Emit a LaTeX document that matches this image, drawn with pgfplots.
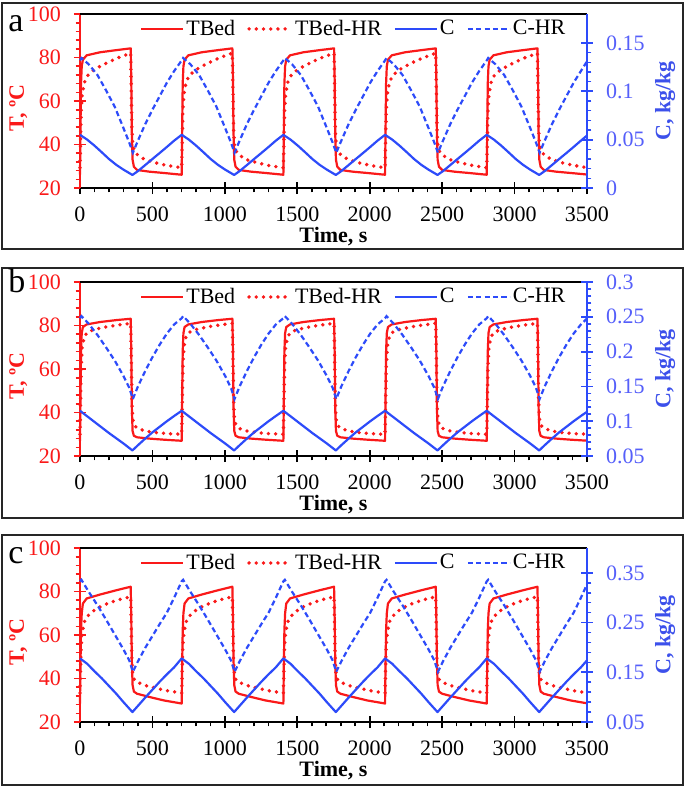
\documentclass[border=0pt]{standalone}
\usepackage{fontspec}
\setmainfont{Liberation Serif}
\usepackage{pgfplots}
\usepackage{pgfplotstable}
\pgfplotsset{compat=1.18}
\definecolor{tred}{RGB}{250,25,25}
\definecolor{cblue}{RGB}{45,75,250}
\definecolor{lblue}{RGB}{85,95,250}
\definecolor{clab}{RGB}{60,80,235}

\pgfplotstableread{
t a b c
0 26.1 27.0 28.5
3 45 45 45
7 68 68 62
12 76 76.5 70
20 79 79.3 74.5
46 81 80.5 76.8
138 82.4 81.6 78.6
252 83.4 82.5 80.6
350 84.2 83.1 82.2
354 70 68 68
358 45 42 48
363 33 31.5 37
372 29.8 29.3 34
394 28.3 28.6 33.0
480 27.5 28.0 31.5
580 26.9 27.5 29.9
702 26.1 27.0 28.5
705 45 45 45
709 68 68 62
714 76 76.5 70
722 79 79.3 74.5
748 81 80.5 76.8
840 82.4 81.6 78.6
954 83.4 82.5 80.6
1052 84.2 83.1 82.2
1056 70 68 68
1060 45 42 48
1065 33 31.5 37
1074 29.8 29.3 34
1096 28.3 28.6 33.0
1182 27.5 28.0 31.5
1282 26.9 27.5 29.9
1404 26.1 27.0 28.5
1407 45 45 45
1411 68 68 62
1416 76 76.5 70
1424 79 79.3 74.5
1450 81 80.5 76.8
1542 82.4 81.6 78.6
1656 83.4 82.5 80.6
1754 84.2 83.1 82.2
1758 70 68 68
1762 45 42 48
1767 33 31.5 37
1776 29.8 29.3 34
1798 28.3 28.6 33.0
1884 27.5 28.0 31.5
1984 26.9 27.5 29.9
2106 26.1 27.0 28.5
2109 45 45 45
2113 68 68 62
2118 76 76.5 70
2126 79 79.3 74.5
2152 81 80.5 76.8
2244 82.4 81.6 78.6
2358 83.4 82.5 80.6
2456 84.2 83.1 82.2
2460 70 68 68
2464 45 42 48
2469 33 31.5 37
2478 29.8 29.3 34
2500 28.3 28.6 33.0
2586 27.5 28.0 31.5
2686 26.9 27.5 29.9
2808 26.1 27.0 28.5
2811 45 45 45
2815 68 68 62
2820 76 76.5 70
2828 79 79.3 74.5
2854 81 80.5 76.8
2946 82.4 81.6 78.6
3060 83.4 82.5 80.6
3158 84.2 83.1 82.2
3162 70 68 68
3166 45 42 48
3171 33 31.5 37
3180 29.8 29.3 34
3202 28.3 28.6 33.0
3288 27.5 28.0 31.5
3388 26.9 27.5 29.9
3500 26.2 27.05 28.6
}\tbed

\pgfplotstableread{
t a b c
0 29.3 30.0 33.3
4 42 45 45
8 55 60 55
15 63 70 61
30 68.5 75 66
50 71.5 76.8 68.5
90 74 78 71
140 76 78.8 73
200 78 79.6 74.8
260 79.8 80.2 76.1
350 82 81.0 77.6
354 65 66 62
358 48 46 48
364 40 37 42
375 37 34 39.3
400 35 32.6 38.2
450 33 31.5 36.8
520 31.6 30.8 35.6
600 30.4 30.3 34.4
702 29.3 30.0 33.3
706 42 45 45
710 55 60 55
717 63 70 61
732 68.5 75 66
752 71.5 76.8 68.5
792 74 78 71
842 76 78.8 73
902 78 79.6 74.8
962 79.8 80.2 76.1
1052 82 81.0 77.6
1056 65 66 62
1060 48 46 48
1066 40 37 42
1077 37 34 39.3
1102 35 32.6 38.2
1152 33 31.5 36.8
1222 31.6 30.8 35.6
1302 30.4 30.3 34.4
1404 29.3 30.0 33.3
1408 42 45 45
1412 55 60 55
1419 63 70 61
1434 68.5 75 66
1454 71.5 76.8 68.5
1494 74 78 71
1544 76 78.8 73
1604 78 79.6 74.8
1664 79.8 80.2 76.1
1754 82 81.0 77.6
1758 65 66 62
1762 48 46 48
1768 40 37 42
1779 37 34 39.3
1804 35 32.6 38.2
1854 33 31.5 36.8
1924 31.6 30.8 35.6
2004 30.4 30.3 34.4
2106 29.3 30.0 33.3
2110 42 45 45
2114 55 60 55
2121 63 70 61
2136 68.5 75 66
2156 71.5 76.8 68.5
2196 74 78 71
2246 76 78.8 73
2306 78 79.6 74.8
2366 79.8 80.2 76.1
2456 82 81.0 77.6
2460 65 66 62
2464 48 46 48
2470 40 37 42
2481 37 34 39.3
2506 35 32.6 38.2
2556 33 31.5 36.8
2626 31.6 30.8 35.6
2706 30.4 30.3 34.4
2808 29.3 30.0 33.3
2812 42 45 45
2816 55 60 55
2823 63 70 61
2838 68.5 75 66
2858 71.5 76.8 68.5
2898 74 78 71
2948 76 78.8 73
3008 78 79.6 74.8
3068 79.8 80.2 76.1
3158 82 81.0 77.6
3162 65 66 62
3166 48 46 48
3172 40 37 42
3183 37 34 39.3
3208 35 32.6 38.2
3258 33 31.5 36.8
3328 31.6 30.8 35.6
3408 30.4 30.3 34.4
3500 29.4 30.05 33.4
}\tbedhr

\pgfplotstableread{
t a b c
0 0.055 0.115 0.178
50 0.050 0.107 0.167
100 0.0438 0.099 0.152
150 0.0370 0.091 0.138
200 0.0300 0.083 0.1225
250 0.0240 0.0755 0.107
300 0.0190 0.068 0.090
362 0.0135 0.058 0.070
400 0.0175 0.0655 0.0825
450 0.0237 0.075 0.099
500 0.0300 0.084 0.115
550 0.0362 0.092 0.131
600 0.0425 0.100 0.146
650 0.0490 0.1075 0.160
702 0.055 0.115 0.178
752 0.050 0.107 0.167
802 0.0438 0.099 0.152
852 0.0370 0.091 0.138
902 0.0300 0.083 0.1225
952 0.0240 0.0755 0.107
1002 0.0190 0.068 0.090
1064 0.0135 0.058 0.070
1102 0.0175 0.0655 0.0825
1152 0.0237 0.075 0.099
1202 0.0300 0.084 0.115
1252 0.0362 0.092 0.131
1302 0.0425 0.100 0.146
1352 0.0490 0.1075 0.160
1404 0.055 0.115 0.178
1454 0.050 0.107 0.167
1504 0.0438 0.099 0.152
1554 0.0370 0.091 0.138
1604 0.0300 0.083 0.1225
1654 0.0240 0.0755 0.107
1704 0.0190 0.068 0.090
1766 0.0135 0.058 0.070
1804 0.0175 0.0655 0.0825
1854 0.0237 0.075 0.099
1904 0.0300 0.084 0.115
1954 0.0362 0.092 0.131
2004 0.0425 0.100 0.146
2054 0.0490 0.1075 0.160
2106 0.055 0.115 0.178
2156 0.050 0.107 0.167
2206 0.0438 0.099 0.152
2256 0.0370 0.091 0.138
2306 0.0300 0.083 0.1225
2356 0.0240 0.0755 0.107
2406 0.0190 0.068 0.090
2468 0.0135 0.058 0.070
2506 0.0175 0.0655 0.0825
2556 0.0237 0.075 0.099
2606 0.0300 0.084 0.115
2656 0.0362 0.092 0.131
2706 0.0425 0.100 0.146
2756 0.0490 0.1075 0.160
2808 0.055 0.115 0.178
2858 0.050 0.107 0.167
2908 0.0438 0.099 0.152
2958 0.0370 0.091 0.138
3008 0.0300 0.083 0.1225
3058 0.0240 0.0755 0.107
3108 0.0190 0.068 0.090
3170 0.0135 0.058 0.070
3208 0.0175 0.0655 0.0825
3258 0.0237 0.075 0.099
3308 0.0300 0.084 0.115
3358 0.0362 0.092 0.131
3408 0.0425 0.100 0.146
3458 0.0490 0.1075 0.160
3500 0.0542 0.1135 0.174
}\cc

\pgfplotstableread{
t a b c
0 0.132 0.248 0.333
10 0.1345 0.251 0.336
60 0.128 0.240 0.312
120 0.117 0.224 0.285
180 0.101 0.206 0.256
240 0.084 0.187 0.226
300 0.062 0.165 0.196
340 0.047 0.148 0.174
365 0.0365 0.132 0.151
400 0.049 0.150 0.172
450 0.066 0.172 0.199
500 0.081 0.192 0.223
550 0.095 0.210 0.247
600 0.109 0.226 0.270
650 0.121 0.239 0.300
702 0.132 0.248 0.333
712 0.1345 0.251 0.336
762 0.128 0.240 0.312
822 0.117 0.224 0.285
882 0.101 0.206 0.256
942 0.084 0.187 0.226
1002 0.062 0.165 0.196
1042 0.047 0.148 0.174
1067 0.0365 0.132 0.151
1102 0.049 0.150 0.172
1152 0.066 0.172 0.199
1202 0.081 0.192 0.223
1252 0.095 0.210 0.247
1302 0.109 0.226 0.270
1352 0.121 0.239 0.300
1404 0.132 0.248 0.333
1414 0.1345 0.251 0.336
1464 0.128 0.240 0.312
1524 0.117 0.224 0.285
1584 0.101 0.206 0.256
1644 0.084 0.187 0.226
1704 0.062 0.165 0.196
1744 0.047 0.148 0.174
1769 0.0365 0.132 0.151
1804 0.049 0.150 0.172
1854 0.066 0.172 0.199
1904 0.081 0.192 0.223
1954 0.095 0.210 0.247
2004 0.109 0.226 0.270
2054 0.121 0.239 0.300
2106 0.132 0.248 0.333
2116 0.1345 0.251 0.336
2166 0.128 0.240 0.312
2226 0.117 0.224 0.285
2286 0.101 0.206 0.256
2346 0.084 0.187 0.226
2406 0.062 0.165 0.196
2446 0.047 0.148 0.174
2471 0.0365 0.132 0.151
2506 0.049 0.150 0.172
2556 0.066 0.172 0.199
2606 0.081 0.192 0.223
2656 0.095 0.210 0.247
2706 0.109 0.226 0.270
2756 0.121 0.239 0.300
2808 0.132 0.248 0.333
2818 0.1345 0.251 0.336
2868 0.128 0.240 0.312
2928 0.117 0.224 0.285
2988 0.101 0.206 0.256
3048 0.084 0.187 0.226
3108 0.062 0.165 0.196
3148 0.047 0.148 0.174
3173 0.0365 0.132 0.151
3208 0.049 0.150 0.172
3258 0.066 0.172 0.199
3308 0.081 0.192 0.223
3358 0.095 0.210 0.247
3408 0.109 0.226 0.270
3458 0.121 0.239 0.300
3500 0.131 0.2475 0.327
}\chr

\pgfplotsset{
  base/.style={
    scale only axis, width=253.5pt, height=87pt, xmin=0, xmax=3500,
    tick align=outside, major tick length=6pt, minor tick length=2.2pt,
    /pgf/number format/assume math mode=true,
    /pgf/number format/set thousands separator={},
    tick label style={font=\fontsize{11}{13}\selectfont},
    clip=false,
  },
  leftax/.style={
    base, axis x line*=bottom, axis y line*=left,
    axis line style={-, line width=0.9pt},
    x axis line style={black}, y axis line style={tred},
    ymin=20, ymax=100, ytick={20,40,...,100}, minor y tick num=4,
    xtick={0,500,...,3500}, minor x tick num=4,
    major x tick style={black, line width=0.9pt, yshift=3pt},
    minor x tick style={black, line width=0.8pt},
    major y tick style={tred, line width=0.9pt, xshift=3pt},
    minor y tick style={tred, line width=0.8pt},
    yticklabel style={text=tred},
    xticklabel style={text=black},
    ylabel={T, ºC}, xlabel={Time, s},
    ylabel style={at={(axis description cs:-0.122,0.46)}, anchor=center, text=tred, font=\bfseries\fontsize{11}{13}\selectfont},
    xlabel style={at={(axis description cs:0.5,-0.28)}, anchor=center, font=\bfseries\fontsize{11}{13}\selectfont},
  },
  rightax/.style={
    base, axis x line=none, axis y line*=right,
    axis line style={-, line width=0.9pt},
    y axis line style={cblue},
    minor y tick num=4,
    major y tick style={cblue, line width=0.9pt, xshift=-3pt},
    minor y tick style={cblue, line width=0.8pt},
    scaled y ticks=false,
    yticklabel style={text=lblue, /pgf/number format/fixed, /pgf/number format/precision=3},
    ylabel={C, kg/kg},
    ylabel style={at={(axis description cs:1.154,0.5)}, anchor=center, text=clab, font=\bfseries\fontsize{11}{13}\selectfont},
    legend columns=4,
    legend style={draw=none, fill=none, at={(axis description cs:0.54,0.914)}, anchor=center,
      font=\fontsize{11}{13}\selectfont, inner sep=0pt,
      nodes={inner sep=1pt},
      /tikz/every even column/.append style={column sep=5pt}},
    legend image code/.code={\draw[#1] (0pt,0pt) -- (21pt,0pt);},
  },
  solidr/.style={tred, line width=1.1pt, line join=round},
  dotr/.style={tred, line width=1.9pt, line cap=round, dash pattern=on 0pt off 3.6pt},
  solidb/.style={cblue, line width=1.1pt, line join=round},
  dashb/.style={cblue, line width=1.1pt, dash pattern=on 2.6pt off 1.6pt},
}

\begin{document}
\begin{tikzpicture}
\useasboundingbox (0,0) rectangle (342.5pt,-393.5pt);
\fill[white] (0,0) rectangle (342.5pt,-393.5pt);
\draw[line width=0.8pt, black!85] (1pt,-1.5pt) rectangle (341.5pt,-124.5pt);
\draw[line width=0.8pt, black!85] (1pt,-134pt) rectangle (341.5pt,-259pt);
\draw[line width=0.8pt, black!85] (1pt,-267.5pt) rectangle (341.5pt,-392.5pt);

% ---------- panel a
\begin{axis}[leftax, at={(40pt,-94pt)}, anchor=south west]
\draw[black, line width=0.9pt] (rel axis cs:0,1) -- (rel axis cs:1,1);
\addplot[solidr] table[x=t,y=a]{\tbed};
\addplot[dotr] table[x=t,y=a]{\tbedhr};
\end{axis}
\begin{axis}[rightax, at={(40pt,-94pt)}, anchor=south west,
  ymin=0, ymax=0.18, ytick={0,0.05,0.1,0.15}]
\addlegendimage{solidr}\addlegendentry{TBed}
\addlegendimage{dotr}\addlegendentry{TBed-HR}
\addplot[solidb] table[x=t,y=a]{\cc}; \addlegendentry{C}
\addplot[dashb] table[x=t,y=a]{\chr}; \addlegendentry{C-HR}
\end{axis}

% ---------- panel b
\begin{axis}[leftax, at={(40pt,-228pt)}, anchor=south west]
\draw[black, line width=0.9pt] (rel axis cs:0,1) -- (rel axis cs:1,1);
\addplot[solidr] table[x=t,y=b]{\tbed};
\addplot[dotr] table[x=t,y=b]{\tbedhr};
\end{axis}
\begin{axis}[rightax, at={(40pt,-228pt)}, anchor=south west,
  ymin=0.05, ymax=0.3, ytick={0.05,0.1,0.15,0.2,0.25,0.3}]
\addlegendimage{solidr}\addlegendentry{TBed}
\addlegendimage{dotr}\addlegendentry{TBed-HR}
\addplot[solidb] table[x=t,y=b]{\cc}; \addlegendentry{C}
\addplot[dashb] table[x=t,y=b]{\chr}; \addlegendentry{C-HR}
\end{axis}

% ---------- panel c
\begin{axis}[leftax, at={(40pt,-361pt)}, anchor=south west]
\draw[black, line width=0.9pt] (rel axis cs:0,1) -- (rel axis cs:1,1);
\addplot[solidr] table[x=t,y=c]{\tbed};
\addplot[dotr] table[x=t,y=c]{\tbedhr};
\end{axis}
\begin{axis}[rightax, at={(40pt,-361pt)}, anchor=south west,
  ymin=0.05, ymax=0.4, ytick={0.05,0.15,0.25,0.35}]
\addlegendimage{solidr}\addlegendentry{TBed}
\addlegendimage{dotr}\addlegendentry{TBed-HR}
\addplot[solidb] table[x=t,y=c]{\cc}; \addlegendentry{C}
\addplot[dashb] table[x=t,y=c]{\chr}; \addlegendentry{C-HR}
\end{axis}

\node[anchor=base west, font=\fontsize{17}{20}\selectfont, inner sep=0pt] at (4pt,-16pt) {a};
\node[anchor=base west, font=\fontsize{17}{20}\selectfont, inner sep=0pt] at (4pt,-146pt) {b};
\node[anchor=base west, font=\fontsize{17}{20}\selectfont, inner sep=0pt] at (4pt,-281.5pt) {c};
\end{tikzpicture}
\end{document}
